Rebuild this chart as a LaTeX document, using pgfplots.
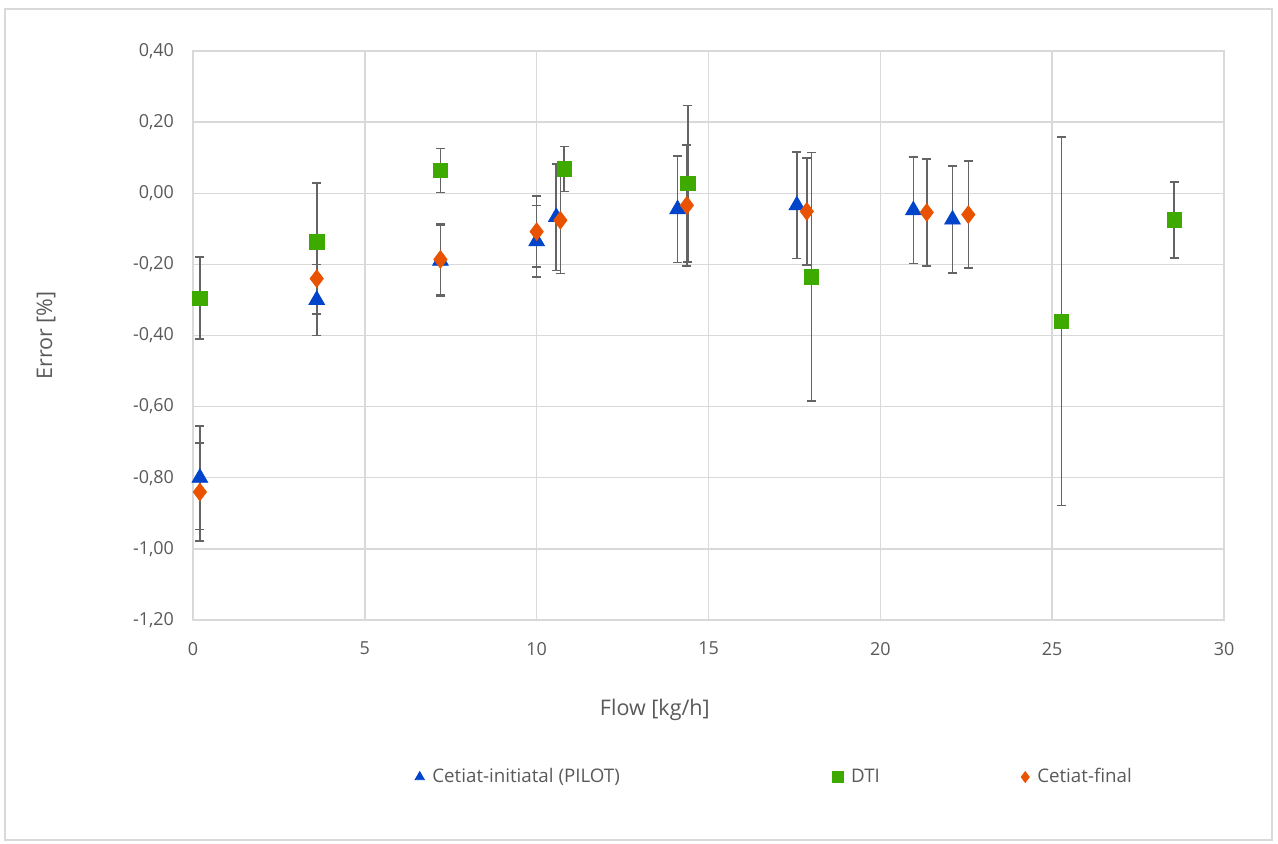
\documentclass[border=0pt]{standalone}
\usepackage{fontspec}
\setmainfont{Open Sans}
\usepackage{pgfplots}
\usepackage{pgfplotstable}
\pgfplotsset{compat=1.18}
\definecolor{cblue}{RGB}{0,68,204}
\definecolor{cgreen}{RGB}{62,170,0}
\definecolor{corange}{RGB}{232,82,0}
\definecolor{gridc}{RGB}{217,217,217}
\definecolor{txt}{RGB}{89,89,89}
\definecolor{ebar}{RGB}{100,100,100}

\pgfplotstableread{
x y e
0.2 -0.80 0.145
3.6 -0.30 0.10
7.2 -0.19 0.10
10.0 -0.135 0.10
10.57 -0.067 0.15
14.1 -0.045 0.15
17.57 -0.034 0.15
20.96 -0.048 0.15
22.1 -0.074 0.15
}\initial
\pgfplotstableread{
x y e
0.2 -0.295 0.115
3.6 -0.137 0.165
7.2 0.064 0.062
10.8 0.068 0.063
14.4 0.027 0.22
18.0 -0.235 0.35
25.27 -0.36 0.518
28.55 -0.075 0.107
}\dti
\pgfplotstableread{
x y e
0.2 -0.84 0.138
3.6 -0.24 0.10
7.2 -0.186 0.10
10.0 -0.108 0.10
10.69 -0.076 0.15
14.37 -0.034 0.17
17.86 -0.051 0.15
21.35 -0.054 0.15
22.56 -0.06 0.15
}\final

\begin{document}
\begin{tikzpicture}
\path (-96.5bp,-112bp) rectangle (542.5bp,310bp);
\draw[gridc, line width=0.8pt] (-94bp,-110bp) rectangle (539.5bp,305.5bp);
\begin{axis}[
  at={(0,0)}, anchor=south west,
  scale only axis, width=515.5bp, height=284.5bp,
  xmin=0, xmax=30, ymin=-1.2, ymax=0.4,
  xtick={0,5,...,30},
  ytick={-1.2,-1.0,-0.8,-0.6,-0.4,-0.2,0,0.2,0.4},
  grid=major,
  major grid style={gridc, line width=0.7pt},
  axis line style={gridc, line width=0.7pt},
  major tick length=0pt,
  /pgf/number format/assume math mode=true,
  ticklabel style={txt, font=\fontsize{9}{11}\selectfont},
  yticklabel style={xshift=-6bp, /pgf/number format/.cd, fixed, fixed zerofill, precision=2, use comma},
  xticklabel style={yshift=-7.5bp, /pgf/number format/.cd, fixed, precision=0},
  xlabel={Flow [kg/h]}, ylabel={Error [\%]},
  label style={txt, font=\fontsize{10.8}{12}\selectfont},
  xlabel style={at={(axis description cs:0.448,-0.158)}, anchor=center},
  ylabel style={at={(axis description cs:-0.1425,0.5)}, anchor=center, rotate=0},
  legend columns=3,
  legend style={at={(axis description cs:0.215,-0.276)}, anchor=west, draw=none, fill=none,
    inner sep=0pt, font=\fontsize{9.4}{11}\selectfont, text=txt,
    nodes={inner sep=0pt, anchor=west},
    /tikz/every odd column/.append style={column sep=4bp}},
  legend image code/.code={\draw[#1,mark size=2.7bp] plot coordinates {(0bp,0bp)};},
  error bars/y dir=both, error bars/y explicit,
  error bars/error bar style={ebar, line width=0.8pt},
  error bars/error mark options={ebar, rotate=90, mark size=2.3bp, line width=0.8pt},
]
\addplot[only marks, mark=triangle*, mark size=4.5bp, mark options={draw=cblue, fill=cblue}]
  table[x=x, y=y, y error=e] {\initial};
\addlegendentry{\makebox[200bp][l]{Cetiat-initiatal (PILOT)}}
\addplot[only marks, mark=square*, mark size=3.6bp, mark options={draw=cgreen, fill=cgreen}]
  table[x=x, y=y, y error=e] {\dti};
\addlegendentry{\makebox[85bp][l]{DTI}}
\addplot[only marks, mark=diamond*, mark size=4.4bp, mark options={draw=corange, fill=corange}]
  table[x=x, y=y, y error=e] {\final};
\addlegendentry{Cetiat-final}
\end{axis}
\end{tikzpicture}
\end{document}
